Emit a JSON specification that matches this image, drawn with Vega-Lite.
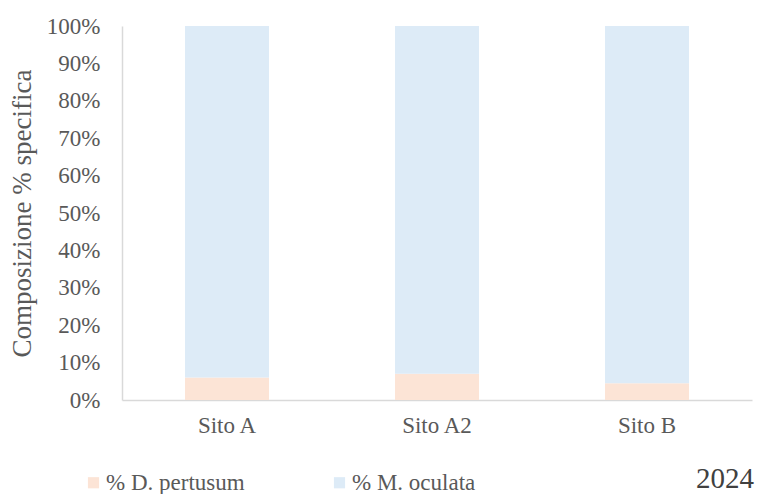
{
  "$schema": "https://vega.github.io/schema/vega-lite/v6.json",
  "width": 630,
  "height": 374,
  "autosize": {"type": "none"},
  "padding": {"left": 122, "top": 26, "right": 6, "bottom": 94},
  "background": "white",
  "config": {
    "font": "'Liberation Serif', 'Times New Roman', serif",
    "view": {"stroke": null},
    "axis": {"labelFont": "'Liberation Serif', 'Times New Roman', serif", "titleFont": "'Liberation Serif', 'Times New Roman', serif", "labelColor": "#595959", "titleColor": "#595959"},
    "legend": {"labelFont": "'Liberation Serif', 'Times New Roman', serif", "labelColor": "#595959"}
  },
  "title": {
    "text": "2024",
    "orient": "bottom",
    "anchor": "end",
    "font": "'Liberation Serif', 'Times New Roman', serif",
    "fontSize": 29,
    "fontWeight": "normal",
    "color": "#404040",
    "dx": 2,
    "offset": -30
  },
  "data": {
    "values": [
      {"sito": "Sito A", "specie": "% D. pertusum", "pct": 6},
      {"sito": "Sito A", "specie": "% M. oculata", "pct": 94},
      {"sito": "Sito A2", "specie": "% D. pertusum", "pct": 7},
      {"sito": "Sito A2", "specie": "% M. oculata", "pct": 93},
      {"sito": "Sito B", "specie": "% D. pertusum", "pct": 4.5},
      {"sito": "Sito B", "specie": "% M. oculata", "pct": 95.5}
    ]
  },
  "mark": {"type": "bar"},
  "encoding": {
    "x": {
      "field": "sito",
      "type": "nominal",
      "sort": ["Sito A", "Sito A2", "Sito B"],
      "scale": {"paddingInner": 0.6, "paddingOuter": 0.3},
      "axis": {
        "title": null,
        "labelAngle": 0,
        "labelFontSize": 23,
        "labelPadding": 14,
        "ticks": false,
        "domainColor": "#D9D9D9",
        "domainWidth": 1.5
      }
    },
    "y": {
      "field": "pct",
      "type": "quantitative",
      "stack": "normalize",
      "scale": {"domain": [0, 1]},
      "axis": {
        "title": "Composizione % specifica",
        "titleFontSize": 27,
        "titleFontWeight": "normal",
        "titlePadding": 10,
        "format": ".0%",
        "values": [0, 0.1, 0.2, 0.3, 0.4, 0.5, 0.6, 0.7, 0.8, 0.9, 1],
        "labelFontSize": 23,
        "labelPadding": 22,
        "ticks": false,
        "grid": false,
        "domainColor": "#D9D9D9",
        "domainWidth": 1.5
      }
    },
    "color": {
      "field": "specie",
      "type": "nominal",
      "scale": {"domain": ["% D. pertusum", "% M. oculata"], "range": ["#FCE4D6", "#DDEBF7"]},
      "legend": {
        "title": null,
        "orient": "none",
        "direction": "horizontal",
        "legendX": -40,
        "legendY": 445,
        "symbolType": "square",
        "symbolSize": 125,
        "symbolStrokeWidth": 0,
        "labelFontSize": 23,
        "labelOffset": 1,
        "columnPadding": 83
      }
    },
    "order": {"field": "specie", "sort": "ascending"}
  }
}
